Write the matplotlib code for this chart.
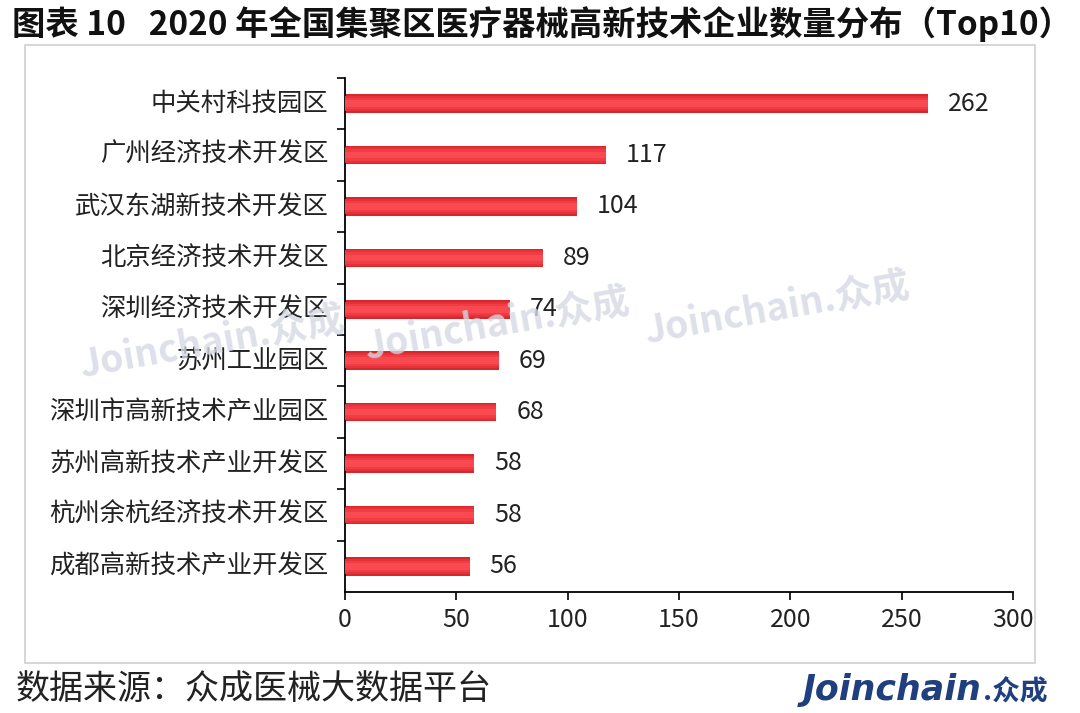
import matplotlib
matplotlib.use("Agg")
import matplotlib.pyplot as plt
from matplotlib.patches import Rectangle

plt.rcParams['font.family'] = ['Noto Sans CJK SC', 'DejaVu Sans']

categories = ["中关村科技园区", "广州经济技术开发区", "武汉东湖新技术开发区", "北京经济技术开发区",
              "深圳经济技术开发区", "苏州工业园区", "深圳市高新技术产业园区", "苏州高新技术产业开发区",
              "杭州余杭经济技术开发区", "成都高新技术产业开发区"]
values = [262, 117, 104, 89, 74, 69, 68, 58, 58, 56]
xticks = [0, 50, 100, 150, 200, 250, 300]
title = "图表 10   2020 年全国集聚区医疗器械高新技术企业数量分布（Top10）"
source = "数据来源：众成医械大数据平台"

W, H = 1080, 713
fig = plt.figure(figsize=(W/100, H/100), dpi=100)
fig.patch.set_facecolor('white')

# border box
fig.add_artist(Rectangle((25/W, 1-663/H), (1035-25)/W, (663-45)/H, transform=fig.transFigure,
                         fill=False, edgecolor='#d0d0d0', linewidth=1.2))

ax = fig.add_axes([345/W, 1-592/H, (1013-345)/W, (592-78)/H])
ypos = list(range(len(categories)))
# gradient-like bars: layered from dark edge to light center
layers = [(0.36, '#d8262d'), (0.30, '#e73138'), (0.22, '#f23c43'), (0.13, '#fa4a51')]
for k, (h, col) in enumerate(layers):
    ax.barh(ypos, values, height=h, color=col, linewidth=0, zorder=2 + k)
ax.set_ylim(len(categories) - 0.5, -0.5)
ax.set_xlim(0, 300)
ax.set_xticks(xticks)
ax.set_xticklabels([str(t) for t in xticks], fontsize=18, color='#222222')
ax.set_yticks([i + 0.5 for i in ypos[:-1]] + [-0.5])
ax.set_yticklabels([])
ax.tick_params(axis='y', length=6, width=1.2, direction='out')
ax.tick_params(axis='x', length=6, width=1.2, direction='out', pad=5)
for i, c in enumerate(categories):
    ax.text(-7.5, i, c, ha='right', va='center', fontsize=18.3, color='#222222')
for i, v in enumerate(values):
    ax.text(v + 9, i, str(v), ha='left', va='center', fontsize=18, color='#222222')
for s in ['top', 'right']:
    ax.spines[s].set_visible(False)
ax.spines['left'].set_linewidth(1.3)
ax.spines['bottom'].set_linewidth(1.3)

# watermarks
for (x, y) in [(212, 343), (497, 325), (777, 309)]:
    fig.text(x/W, 1-y/H, "Joinchain.众成", fontsize=27, fontweight='bold',
             color='#d5d9e4', alpha=0.8, rotation=10, ha='center', va='center', zorder=0)

fig.text(12/W, 1-24/H, title, fontsize=24, fontweight='bold', ha='left', va='center', color='#111111')
fig.text(16/W, 1-689/H, source, fontsize=24.5, ha='left', va='center', color='#222222')
fig.text(982/W, 1-690/H, "Joinchain", fontsize=25, fontweight='bold', fontstyle='italic',
         ha='right', va='center', color='#1f3f7f', family=['DejaVu Sans'])
fig.text(983/W, 1-692/H, ".众成", fontsize=20, fontweight='bold',
         ha='left', va='center', color='#1f3f7f')
fig.savefig("out.png", dpi=100, facecolor='white')
